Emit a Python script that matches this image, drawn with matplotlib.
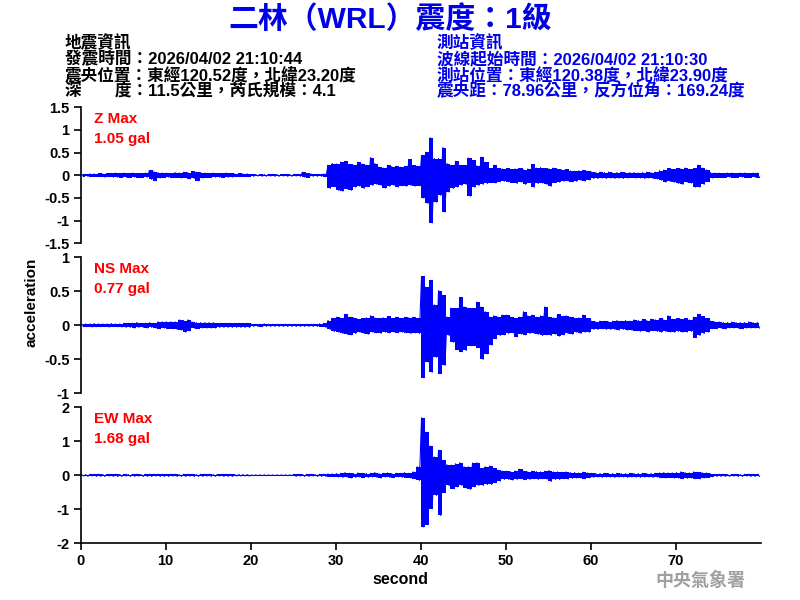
import numpy as np
import matplotlib
matplotlib.use("Agg")
import matplotlib.pyplot as plt

# ---- data: per-0.5 s peak (hi) and trough (lo) values ----
bin_width = 0.5

z_hi = [0.03,0.02,0.03,0.03,0.04,0.03,0.04,0.04,0.05,0.04, 0.05,0.04,0.05,0.04,0.04,0.05,0.11,0.08,0.06,0.05,
        0.05,0.04,0.06,0.05,0.07,0.06,0.09,0.07,0.06,0.05, 0.04,0.05,0.04,0.04,0.05,0.04,0.03,0.04,0.03,0.03,
        0.02,0.015,0.02,0.015,0.02,0.02,0.015,0.02,0.02,0.015, 0.02,0.02,0.07,0.04,0.03,0.02,0.02,0.03,0.22,0.26,
        0.25,0.29,0.31,0.24,0.22,0.29,0.25,0.22,0.39,0.26, 0.18,0.16,0.22,0.19,0.2,0.18,0.2,0.35,0.22,0.2,
        0.44,0.51,0.83,0.37,0.37,0.61,0.26,0.22,0.31,0.22, 0.22,0.38,0.33,0.21,0.4,0.29,0.15,0.22,0.15,0.14,
        0.15,0.13,0.14,0.15,0.12,0.14,0.24,0.16,0.17,0.15, 0.14,0.16,0.13,0.12,0.13,0.1,0.09,0.1,0.11,0.09,
        0.07,0.06,0.07,0.06,0.07,0.05,0.06,0.07,0.05,0.06, 0.06,0.05,0.06,0.07,0.06,0.07,0.1,0.12,0.15,0.13,
        0.15,0.14,0.16,0.13,0.15,0.22,0.16,0.12,0.06,0.05, 0.05,0.04,0.05,0.05,0.04,0.05,0.05,0.04,0.05,0.05]
z_lo = [-0.03,-0.02,-0.03,-0.03,-0.03,-0.04,-0.03,-0.04,-0.04,-0.05, -0.04,-0.05,-0.04,-0.05,-0.05,-0.04,-0.09,-0.12,-0.06,-0.05,
        -0.04,-0.05,-0.05,-0.06,-0.05,-0.08,-0.07,-0.12,-0.06,-0.05, -0.05,-0.04,-0.04,-0.05,-0.04,-0.04,-0.03,-0.03,-0.03,-0.03,
        -0.02,-0.015,-0.02,-0.02,-0.015,-0.02,-0.02,-0.015,-0.02,-0.02, -0.015,-0.02,-0.04,-0.05,-0.02,-0.02,-0.02,-0.03,-0.29,-0.25,
        -0.33,-0.35,-0.3,-0.33,-0.26,-0.24,-0.29,-0.25,-0.22,-0.2, -0.22,-0.28,-0.24,-0.22,-0.26,-0.23,-0.24,-0.22,-0.24,-0.23,
        -0.5,-0.62,-1.05,-0.59,-0.44,-0.81,-0.37,-0.29,-0.26,-0.22, -0.2,-0.46,-0.26,-0.22,-0.2,-0.18,-0.16,-0.17,-0.14,-0.13,
        -0.14,-0.16,-0.18,-0.15,-0.2,-0.16,-0.26,-0.18,-0.17,-0.2, -0.24,-0.16,-0.15,-0.13,-0.12,-0.14,-0.13,-0.11,-0.13,-0.1,
        -0.07,-0.07,-0.06,-0.07,-0.06,-0.07,-0.06,-0.07,-0.06,-0.05, -0.06,-0.06,-0.07,-0.06,-0.07,-0.08,-0.11,-0.15,-0.13,-0.15,
        -0.18,-0.2,-0.15,-0.17,-0.26,-0.26,-0.2,-0.14,-0.06,-0.05, -0.05,-0.05,-0.04,-0.05,-0.05,-0.04,-0.05,-0.05,-0.04,-0.05]

ns_hi = [0.02,0.02,0.02,0.025,0.02,0.02,0.02,0.025,0.02,0.02, 0.03,0.03,0.03,0.04,0.03,0.03,0.04,0.03,0.05,0.05,
         0.05,0.05,0.05,0.08,0.07,0.08,0.05,0.04,0.04,0.04, 0.04,0.04,0.03,0.03,0.03,0.03,0.03,0.03,0.03,0.03,
         0.015,0.015,0.015,0.02,0.015,0.015,0.015,0.015,0.015,0.015, 0.015,0.015,0.015,0.015,0.015,0.015,0.02,0.03,0.07,0.1,
         0.12,0.1,0.16,0.12,0.11,0.09,0.1,0.11,0.14,0.11, 0.1,0.11,0.13,0.1,0.12,0.1,0.12,0.11,0.12,0.1,
         0.72,0.56,0.66,0.3,0.51,0.44,0.12,0.25,0.25,0.41, 0.27,0.25,0.25,0.34,0.27,0.2,0.12,0.14,0.12,0.15,
         0.15,0.12,0.1,0.12,0.2,0.14,0.15,0.12,0.14,0.27, 0.12,0.11,0.16,0.13,0.14,0.12,0.1,0.11,0.15,0.1,
         0.06,0.05,0.06,0.06,0.05,0.06,0.07,0.06,0.07,0.06, 0.08,0.07,0.09,0.07,0.09,0.08,0.1,0.08,0.14,0.09,
         0.1,0.09,0.1,0.08,0.12,0.16,0.13,0.1,0.06,0.05, 0.05,0.04,0.04,0.05,0.04,0.04,0.04,0.05,0.04,0.04]
ns_lo = [-0.02,-0.02,-0.025,-0.02,-0.02,-0.02,-0.025,-0.02,-0.02,-0.025, -0.03,-0.03,-0.04,-0.03,-0.03,-0.04,-0.03,-0.04,-0.05,-0.04,
         -0.05,-0.05,-0.06,-0.07,-0.1,-0.08,-0.04,-0.05,-0.04,-0.04, -0.04,-0.04,-0.03,-0.03,-0.03,-0.03,-0.03,-0.03,-0.03,-0.03,
         -0.015,-0.015,-0.02,-0.015,-0.015,-0.015,-0.015,-0.015,-0.015,-0.015, -0.015,-0.015,-0.015,-0.015,-0.015,-0.015,-0.02,-0.03,-0.06,-0.09,
         -0.1,-0.12,-0.13,-0.14,-0.12,-0.1,-0.12,-0.13,-0.1,-0.11, -0.12,-0.1,-0.11,-0.1,-0.11,-0.1,-0.11,-0.12,-0.11,-0.12,
         -0.77,-0.54,-0.69,-0.47,-0.71,-0.59,-0.15,-0.25,-0.36,-0.39, -0.37,-0.3,-0.3,-0.33,-0.5,-0.42,-0.29,-0.2,-0.15,-0.14,
         -0.12,-0.11,-0.17,-0.13,-0.14,-0.12,-0.12,-0.13,-0.15,-0.14, -0.15,-0.13,-0.16,-0.14,-0.12,-0.13,-0.1,-0.12,-0.1,-0.1,
         -0.06,-0.06,-0.05,-0.06,-0.06,-0.06,-0.07,-0.06,-0.07,-0.07, -0.08,-0.09,-0.08,-0.1,-0.08,-0.09,-0.1,-0.09,-0.1,-0.1,
         -0.09,-0.1,-0.1,-0.09,-0.18,-0.15,-0.12,-0.1,-0.05,-0.05, -0.04,-0.05,-0.04,-0.04,-0.04,-0.05,-0.04,-0.04,-0.04,-0.04]

ew_hi = [0.02,0.02,0.03,0.03,0.03,0.02,0.03,0.03,0.03,0.02, 0.03,0.02,0.03,0.03,0.02,0.03,0.03,0.03,0.03,0.03,
         0.03,0.03,0.03,0.02,0.03,0.03,0.03,0.02,0.03,0.03, 0.03,0.02,0.03,0.03,0.03,0.03,0.02,0.02,0.02,0.02,
         0.01,0.01,0.01,0.01,0.01,0.01,0.01,0.01,0.01,0.01, 0.03,0.03,0.02,0.03,0.03,0.02,0.03,0.03,0.04,0.04,
         0.05,0.06,0.08,0.06,0.05,0.07,0.06,0.05,0.06,0.08, 0.05,0.06,0.07,0.05,0.06,0.06,0.08,0.06,0.1,0.25,
         1.69,1.27,0.86,0.54,0.74,0.44,0.31,0.3,0.34,0.37, 0.25,0.25,0.36,0.37,0.2,0.25,0.27,0.2,0.15,0.12,
         0.12,0.1,0.13,0.18,0.12,0.1,0.12,0.11,0.1,0.12, 0.14,0.1,0.1,0.09,0.1,0.08,0.08,0.07,0.09,0.07,
         0.06,0.05,0.05,0.06,0.05,0.05,0.06,0.05,0.05,0.06, 0.05,0.05,0.06,0.05,0.05,0.06,0.07,0.08,0.07,0.07,
         0.08,0.1,0.08,0.07,0.1,0.09,0.08,0.07,0.04,0.03, 0.03,0.03,0.02,0.03,0.03,0.02,0.03,0.03,0.03,0.03]
ew_lo = [-0.02,-0.03,-0.02,-0.03,-0.03,-0.03,-0.02,-0.03,-0.03,-0.03, -0.02,-0.03,-0.03,-0.02,-0.03,-0.03,-0.03,-0.02,-0.03,-0.03,
         -0.03,-0.02,-0.03,-0.03,-0.03,-0.02,-0.03,-0.03,-0.03,-0.02, -0.03,-0.03,-0.02,-0.03,-0.03,-0.03,-0.02,-0.02,-0.02,-0.02,
         -0.01,-0.01,-0.01,-0.01,-0.01,-0.01,-0.01,-0.01,-0.01,-0.01, -0.03,-0.02,-0.03,-0.03,-0.02,-0.03,-0.03,-0.03,-0.04,-0.04,
         -0.05,-0.06,-0.05,-0.08,-0.06,-0.05,-0.07,-0.06,-0.05,-0.06, -0.08,-0.05,-0.06,-0.07,-0.05,-0.06,-0.07,-0.08,-0.1,-0.15,
         -1.52,-1.45,-0.98,-0.59,-1.18,-0.51,-0.3,-0.39,-0.34,-0.3, -0.37,-0.41,-0.34,-0.3,-0.3,-0.27,-0.27,-0.22,-0.17,-0.12,
         -0.12,-0.14,-0.12,-0.1,-0.13,-0.12,-0.1,-0.12,-0.1,-0.11, -0.18,-0.12,-0.12,-0.1,-0.11,-0.09,-0.08,-0.08,-0.1,-0.07,
         -0.06,-0.05,-0.06,-0.05,-0.05,-0.06,-0.05,-0.05,-0.06,-0.05, -0.05,-0.06,-0.05,-0.05,-0.06,-0.05,-0.07,-0.08,-0.07,-0.08,
         -0.08,-0.1,-0.09,-0.08,-0.1,-0.1,-0.08,-0.07,-0.04,-0.03, -0.03,-0.03,-0.03,-0.02,-0.03,-0.03,-0.02,-0.03,-0.03,-0.03]

channels = ["Z", "NS", "EW"]
max_labels = ["1.05 gal", "0.77 gal", "1.68 gal"]
y_limits = [(-1.5, 1.5), (-1.0, 1.0), (-2.0, 2.0)]
y_ticks = [[-1.5, -1, -0.5, 0, 0.5, 1, 1.5], [-1, -0.5, 0, 0.5, 1], [-2, -1, 0, 1, 2]]
y_ticklabels = [["-1.5", "-1", "-0.5", "0", "0.5", "1", "1.5"],
                ["-1", "-0.5", "0", "0.5", "1"],
                ["-2", "-1", "0", "1", "2"]]
x_ticks = [0, 10, 20, 30, 40, 50, 60, 70]

title = "二林（WRL）震度：1級"
left_info = ["地震資訊",
             "發震時間：2026/04/02 21:10:44",
             "震央位置：東經120.52度，北緯23.20度",
             "深\u3000\u3000度：11.5公里，芮氏規模：4.1"]
right_info = ["測站資訊",
              "波線起始時間：2026/04/02 21:10:30",
              "測站位置：東經120.38度，北緯23.90度",
              "震央距：78.96公里，反方位角：169.24度"]
agency = "中央氣象署"

FAM = ["Liberation Sans", "Noto Sans CJK TC", "DejaVu Sans"]
plt.rcParams["font.family"] = FAM
BLUE = "#0000FF"


def trace(hi, lo):
    n = len(hi)
    t0 = np.arange(n) * bin_width
    t = np.empty(2 * n)
    v = np.empty(2 * n)
    t[0::2] = t0 + 0.1
    v[0::2] = hi
    t[1::2] = t0 + 0.35
    v[1::2] = lo
    return t, v


fig = plt.figure(figsize=(8, 6), dpi=100)
W, H = 800.0, 600.0
left_px, right_px = 80.7, 760.7
tops = [107.3, 257.3, 407.3]
height_px = 136.0
series = [(z_hi, z_lo), (ns_hi, ns_lo), (ew_hi, ew_lo)]

for i, (ch, (hi, lo)) in enumerate(zip(channels, series)):
    ax = fig.add_axes([left_px / W, 1 - (tops[i] + height_px) / H,
                       (right_px - left_px) / W, height_px / H])
    centers = np.arange(len(hi)) * bin_width + bin_width / 2
    ax.fill_between(centers, lo, hi, step="mid", color=BLUE, lw=0)
    t, v = trace(hi, lo)
    ax.plot(t, v, color=BLUE, lw=0.8)
    ax.set_xlim(0, 80)
    ax.set_ylim(*y_limits[i])
    ax.set_yticks(y_ticks[i])
    ax.set_yticklabels(y_ticklabels[i], fontsize=10.5, fontweight="bold")
    for s in ["top", "right"]:
        ax.spines[s].set_visible(False)
    ax.spines["left"].set_linewidth(1.2)
    ax.tick_params(axis="y", length=5, width=1.2, pad=3)
    if i < 2:
        ax.spines["bottom"].set_visible(False)
        ax.set_xticks([])
    else:
        ax.spines["bottom"].set_linewidth(1.2)
        ax.set_xticks(x_ticks)
        ax.set_xticklabels([str(x) for x in x_ticks], fontsize=10.5, fontweight="bold")
        ax.tick_params(axis="x", length=5, width=1.2, pad=3)
    ax.text(0.02, 0.965, ch + " Max", transform=ax.transAxes, color="red",
            fontsize=11, fontweight="bold", va="top", ha="left")
    ax.text(0.02, 0.82, max_labels[i], transform=ax.transAxes, color="red",
            fontsize=11, fontweight="bold", va="top", ha="left")

fig.text(400 / W, 1 - 580 / H, "second", fontsize=11.5, fontweight="bold",
         ha="center", va="center")
fig.text(32 / W, 1 - 302 / H, "acceleration", rotation=90, fontsize=11,
         fontweight="bold", ha="center", va="center")

fig.text(390 / W, 1 - 20 / H, title, fontsize=21.5, fontweight="bold", color="#0000E6",
         ha="center", va="center")

for k, line in enumerate(left_info):
    fig.text(65 / W, 1 - (43 + 16 * k) / H, line, fontsize=12, fontweight="bold",
             color="black", ha="left", va="center")
for k, line in enumerate(right_info):
    fig.text(437 / W, 1 - (43 + 16 * k) / H, line, fontsize=12, fontweight="bold",
             color="#0000E6", ha="left", va="center")

fig.text(745 / W, 1 - 581 / H, agency, fontsize=13, fontweight="bold",
         color="#a0a0a0", ha="right", va="center")

fig.savefig("out.png", dpi=100)
